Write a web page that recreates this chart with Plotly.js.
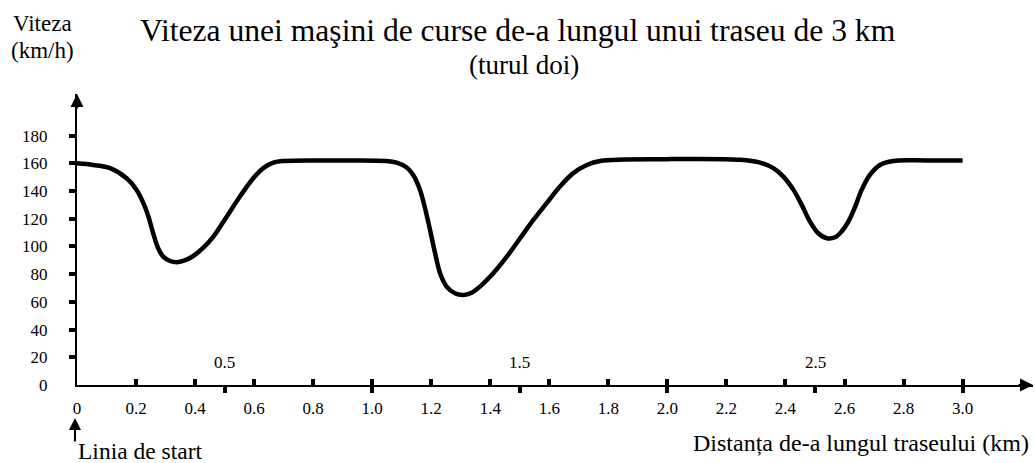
<!DOCTYPE html>
<html>
<head>
<meta charset="utf-8">
<script src="https://cdn.plot.ly/plotly-3.0.1.min.js"></script>
<style>html,body{margin:0;padding:0;background:#fff;}#chart{width:1035px;height:463px;}</style>
</head>
<body>
<div id="chart"></div>
<script>
// ---- data ----
const distanceKm = [0, 0.055, 0.112, 0.168, 0.202, 0.225, 0.242, 0.258, 0.275, 0.292, 0.315, 0.338, 0.360, 0.394, 0.428, 0.462, 0.507, 0.552, 0.597, 0.631, 0.665, 0.699, 0.87, 1.049, 1.083, 1.117, 1.139, 1.162, 1.179, 1.196, 1.213, 1.230, 1.252, 1.280, 1.309, 1.337, 1.365, 1.410, 1.456, 1.501, 1.546, 1.591, 1.636, 1.681, 1.727, 1.772, 2.0, 2.246, 2.314, 2.359, 2.393, 2.427, 2.455, 2.483, 2.511, 2.540, 2.568, 2.590, 2.613, 2.636, 2.658, 2.686, 2.720, 2.765, 2.88, 3.0];
const speedKmh   = [160, 158.8, 156.5, 149.2, 140.8, 131.2, 121.5, 109.5, 98.7, 92.6, 89.5, 88.6, 89.5, 93.1, 99.1, 107.1, 121.5, 136, 149.2, 156.5, 160.5, 161.7, 162, 161.7, 160.5, 157, 151.6, 140.8, 127.6, 111.9, 95.1, 80.6, 71, 66.2, 65, 66.6, 71, 80.6, 92.6, 105.9, 119.1, 131.2, 143.2, 152.9, 158.8, 161.7, 163, 162.5, 160.5, 156.5, 150.4, 140.8, 130, 117.9, 109.5, 105.9, 106.6, 110.7, 117.9, 128.7, 140.8, 151.6, 158.8, 161.7, 162, 162];

const xLabelVals = [0, 0.2, 0.4, 0.6, 0.8, 1.0, 1.2, 1.4, 1.6, 1.8, 2.0, 2.2, 2.4, 2.6, 2.8, 3.0];
const xLabelText = ['0', '0.2', '0.4', '0.6', '0.8', '1.0', '1.2', '1.4', '1.6', '1.8', '2.0', '2.2', '2.4', '2.6', '2.8', '3.0'];
const upperTickVals = [0.2, 0.4, 0.6, 0.8, 1.0, 1.2, 1.4, 1.6, 1.8, 2.0, 2.2, 2.4, 2.6, 2.8, 3.0];
const lowerTickVals = [0.5, 1.0, 1.5, 2.0, 2.5, 3.0];
const halfTickVals = [0.5, 1.5, 2.5];
const halfTickText = ['0.5', '1.5', '2.5'];
const yLabelVals = [0, 20, 40, 60, 80, 100, 120, 140, 160, 180];
const yTickVals = [20, 40, 60, 80, 100, 120, 140, 160, 180];

const titleLine1 = 'Viteza unei maşini de curse de-a lungul unui traseu de 3 km';
const titleLine2 = '(turul doi)';
const yTitleLine1 = 'Viteza';
const yTitleLine2 = '(km/h)';
const xTitle = 'Distanța de-a lungul traseului (km)';
const startText = 'Linia de start';

// ---- layout ----
const FONT = '"Liberation Serif", "Times New Roman", serif';
const xRange = [0, 3.2385];
const yRange = [0, 210];

const baseX = {range: xRange, fixedrange: true, showgrid: false, zeroline: false, automargin: false};
const baseY = {range: yRange, fixedrange: true, showgrid: false, zeroline: false, automargin: false};

function txt(text, x, y, xanchor, size) {
  return {x: x, y: y, xref: 'paper', yref: 'paper', xanchor: xanchor, yanchor: 'middle', align: xanchor,
    text: text, showarrow: false, borderpad: 0, font: {family: FONT, size: size, color: '#000'}};
}
function arrow(x, y, ax, ay, size) {
  return {x: x, y: y, xref: 'paper', yref: 'paper', text: '', showarrow: true, ax: ax, ay: ay,
    arrowhead: 2, arrowsize: size, arrowwidth: 2, arrowcolor: '#000'};
}

const annotations = [];
halfTickVals.forEach((v, i) => annotations.push({
  x: v, y: 0, xref: 'x', yref: 'y', text: halfTickText[i], showarrow: false,
  yshift: 23, font: {family: FONT, size: 17, color: '#000'}
}));
annotations.push(arrow(0, 1, 0, 16, 1.3));
annotations.push(arrow(1, 0, -16, 0, 1.3));
annotations.push(arrow(-0.0021, -0.1134, 0, 25, 1.2));
annotations.push(txt(titleLine1, 0.4612, 1.2165, 'center', 31.6));
annotations.push(txt(titleLine2, 0.4676, 1.098, 'center', 27));
annotations.push(txt(yTitleLine1, -0.068, 1.2416, 'left', 23));
annotations.push(txt(yTitleLine2, -0.0701, 1.148, 'left', 23));
annotations.push(txt(startText, 0, -0.226, 'left', 23.5));
annotations.push(txt(xTitle, 0.9969, -0.1980, 'right', 24));

const layout = {
  width: 1035, height: 463,
  margin: {l: 77, r: 2, t: 94, b: 78, pad: 0},
  paper_bgcolor: '#fff', plot_bgcolor: '#fff',
  showlegend: false,
  font: {family: FONT, color: '#000', size: 17},
  xaxis: Object.assign({}, baseX, {anchor: 'y', showline: true, linecolor: '#000', linewidth: 2,
    tickmode: 'array', tickvals: xLabelVals, ticktext: xLabelText, ticks: '', ticklabelstandoff: 7,
    tickfont: {family: FONT, size: 17, color: '#000'}}),
  xaxis2: Object.assign({}, baseX, {overlaying: 'x', anchor: 'y', showline: false,
    tickmode: 'array', tickvals: upperTickVals, ticks: 'inside', ticklen: 6, tickwidth: 4, tickcolor: '#000',
    showticklabels: false}),
  xaxis3: Object.assign({}, baseX, {overlaying: 'x', anchor: 'y', showline: false,
    tickmode: 'array', tickvals: lowerTickVals, ticks: 'outside', ticklen: 7, tickwidth: 4, tickcolor: '#000',
    showticklabels: false}),
  yaxis: Object.assign({}, baseY, {anchor: 'x', showline: true, linecolor: '#000', linewidth: 2,
    tickmode: 'array', tickvals: yLabelVals, ticks: '', ticklabelstandoff: 24,
    tickfont: {family: FONT, size: 17, color: '#000'}}),
  yaxis2: Object.assign({}, baseY, {overlaying: 'y', anchor: 'x', side: 'left', showline: false,
    tickmode: 'array', tickvals: yTickVals, ticks: 'outside', ticklen: 7, tickwidth: 4, tickcolor: '#000',
    showticklabels: false}),
  annotations: annotations
};

const data = [
  {type: 'scatter', mode: 'lines', x: distanceKm, y: speedKmh,
   line: {color: '#000', width: 4.5, shape: 'spline', smoothing: 1}, hoverinfo: 'skip'},
  // empty traces so the overlaid tick-mark axes are created
  {type: 'scatter', mode: 'lines', x: [], y: [], xaxis: 'x2', yaxis: 'y', hoverinfo: 'skip'},
  {type: 'scatter', mode: 'lines', x: [], y: [], xaxis: 'x3', yaxis: 'y', hoverinfo: 'skip'},
  {type: 'scatter', mode: 'lines', x: [], y: [], xaxis: 'x', yaxis: 'y2', hoverinfo: 'skip'}
];

Plotly.newPlot('chart', data, layout, {displayModeBar: false, staticPlot: true});
</script>
</body>
</html>
